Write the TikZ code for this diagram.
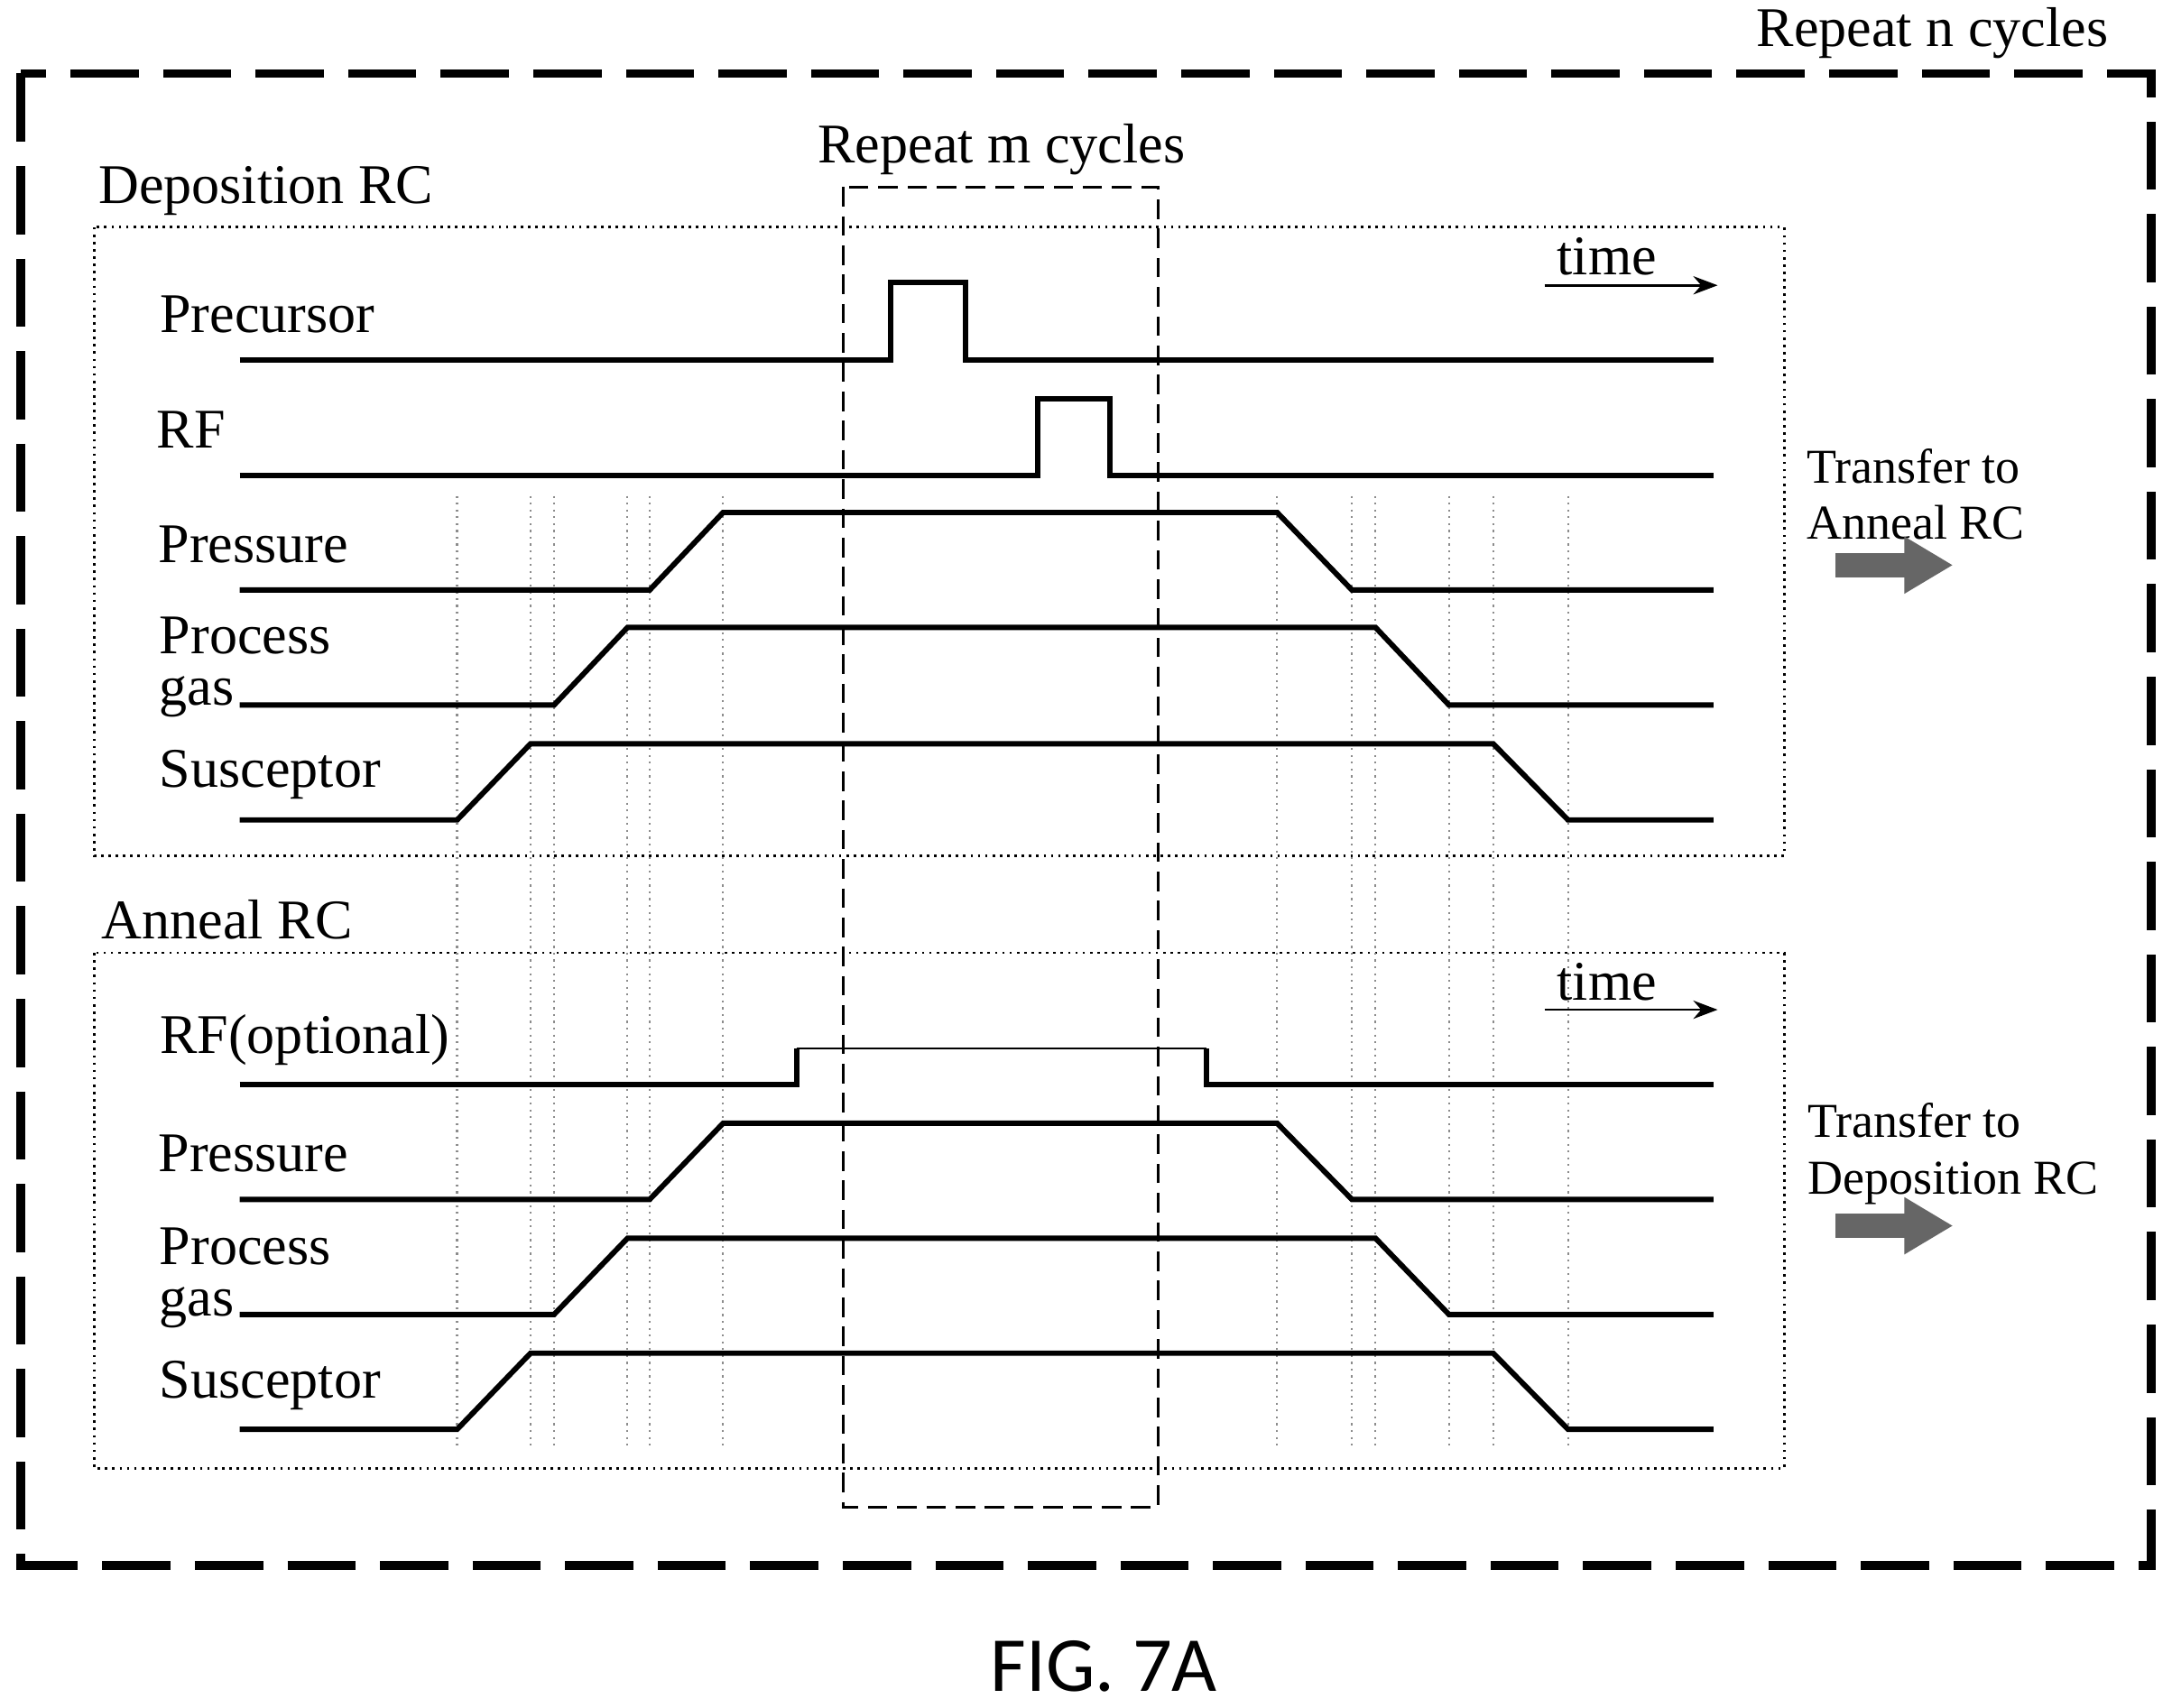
\documentclass[tikz,border=0pt]{standalone}
\usepackage{fontspec}
\setmainfont{Liberation Serif}
\newfontfamily\figfont{Carlito}
\usetikzlibrary{arrows.meta}
\begin{document}
\begin{tikzpicture}[
                x=0.01cm, y=-0.01cm,
                lbl/.style = {font=\fontsize{11.5}{13}\selectfont, inner sep=0pt},
                small lbl/.style = {font=\fontsize{10}{11.5}\selectfont, inner sep=0pt, align=left},
                sig/.style = {draw, line width=1.1pt},
                guide/.style = {draw=black!45, densely dotted, line width=0.4pt},
                outer box/.style = {draw, line width=1.8pt, dash pattern=on 14pt off 5pt},
                inner box/.style = {draw, line width=0.6pt, dash pattern=on 4pt off 2pt},
                rc box/.style = {draw, line width=0.5pt, densely dotted},
                fat arrow/.style = {draw=black!60, -{Triangle[length=10pt,width=11pt]}, line width=5pt},
            ]
            \useasboundingbox (0,0) rectangle (1568,1233);
            % boxes
            \path[outer box] (15,53) rectangle (1553,1130);
            \path[rc box] (68,164) rectangle (1288,618);
            \path[rc box] (68,688) rectangle (1288,1060);
            \path[inner box] (609,135) rectangle (836,1088);
            % guide lines
            \foreach \x in {330,383,400,453,469,522,922,976,993,1046,1078,1132}
                \path[guide] (\x,358) -- (\x,1045);
            % titles
            \node[lbl] (repn) at (1395,24) {Repeat n cycles};
            \node[lbl] (repm) at (723,108) {Repeat m cycles};
            \node[lbl] (deptitle) at (192,138) {Deposition RC};
            \node[lbl] (anntitle) at (164,664) {Anneal RC};
            \node[font=\figfont\fontsize{16}{18}\selectfont, inner sep=0pt] (fig) at (797,1203) {FIG. 7A};
            % time arrows
            \node[lbl] (time1) at (1160,185) {time};
            \coordinate (t1a) at (1115,206); \coordinate (t1b) at (1240,206);
            \draw[-{Stealth[length=5pt]}, line width=0.5pt] (t1a) -- (t1b);
            \node[lbl] (time2) at (1160,709) {time};
            \coordinate (t2a) at (1115,729); \coordinate (t2b) at (1240,729);
            \draw[-{Stealth[length=5pt]}, line width=0.5pt] (t2a) -- (t2b);
            % deposition signals
            \node[lbl] (prec) at (193,227) {Precursor};
            \path[sig] (173,260) -- (643,260) -- (643,204) -- (697,204) -- (697,260) -- (1237,260);
            \node[lbl] (rf) at (138,310) {RF};
            \path[sig] (173,343) -- (749,343) -- (749,288) -- (801,288) -- (801,343) -- (1237,343);
            % ramps: low/high/x rise start/x rise end/x fall start/x fall end
            \foreach \ylo/\yhi/\ra/\rb/\fa/\fb in {
                    426/370/469/522/922/976, 509/453/400/453/993/1046, 592/537/330/383/1078/1132,
                    866/811/469/522/922/976, 949/894/400/453/993/1046, 1032/977/330/383/1078/1132}
                \path[sig] (173,\ylo) -- (\ra,\ylo) -- (\rb,\yhi) -- (\fa,\yhi) -- (\fb,\ylo) -- (1237,\ylo);
            \node[lbl] (dpres) at (183,393) {Pressure};
            \node[lbl] (dproc) at (177,459) {Process};
            \node[lbl] (dgas) at (142,503) {gas};
            \node[lbl] (dsusc) at (195,559) {Susceptor};
            % anneal signals
            \node[lbl] (rfopt) at (220,751) {RF(optional)};
            \path[sig] (173,783) -- (575,783) -- (575,757);
            \draw[line width=0.5pt] (575,757) -- (871,757);
            \path[sig] (871,757) -- (871,783) -- (1237,783);
            \node[lbl] (apres) at (183,833) {Pressure};
            \node[lbl] (aproc) at (177,900) {Process};
            \node[lbl] (agas) at (142,944) {gas};
            \node[lbl] (asusc) at (195,1000) {Susceptor};
            % transfers
            \node[small lbl] (toann) at (1383,357) {Transfer to\\Anneal RC};
            \coordinate (a1s) at (1325,408); \coordinate (a1e) at (1410,408);
            \draw[fat arrow] (a1s) -- (a1e);
            \node[small lbl] (todep) at (1410,833) {Transfer to\\Deposition RC};
            \coordinate (a2s) at (1325,885); \coordinate (a2e) at (1410,885);
            \draw[fat arrow] (a2s) -- (a2e);
        \end{tikzpicture}
\end{document}
